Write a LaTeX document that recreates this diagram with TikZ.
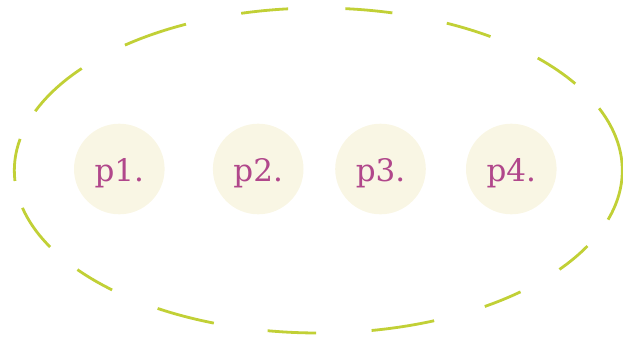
\documentclass[tikz,border=0pt]{standalone}
\usepackage{fontspec}
\setmainfont{DejaVu Serif}
\definecolor{ellcol}{HTML}{C1D036}
\definecolor{dotfill}{HTML}{F9F6E4}
\definecolor{txtcol}{HTML}{B1478B}
\begin{document}
\begin{tikzpicture}[x=1pt,y=1pt,
  ell/.style={draw=ellcol, line width=2.8pt},
  pnode/.style={circle, fill=dotfill, draw=none, minimum size=90.6pt, inner sep=0pt,
    text=txtcol, font=\fontsize{31}{31}\selectfont, text height=32pt, text depth=7pt}]
\useasboundingbox (0,0) rectangle (623,-337);
\coordinate (E) at (318.3,-170.5);
\foreach \s/\e in {-17.6/22.5, -37.5/-27.7, -56.8/-48.3, -79.9/-67.6, -99.6/-90.4,
  -121.9/-110.1, -142.4/-132.7, -166.7/-151.9, 168.8/183.7, 141.1/158.6,
  115.8/129.5, 95.7/104.7, 75.9/84.9, 55.5/65, 32.3/43.8}
  \draw[ell] (E) ++(\s:304 and 162.5) arc[start angle=\s, end angle=\e, x radius=304, y radius=162.5];
\node[pnode] (p1) at (119.3,-169) {p1.};
\node[pnode] (p2) at (258.2,-169) {p2.};
\node[pnode] (p3) at (380.5,-169) {p3.};
\node[pnode] (p4) at (511.3,-169) {p4.};
\end{tikzpicture}
\end{document}
